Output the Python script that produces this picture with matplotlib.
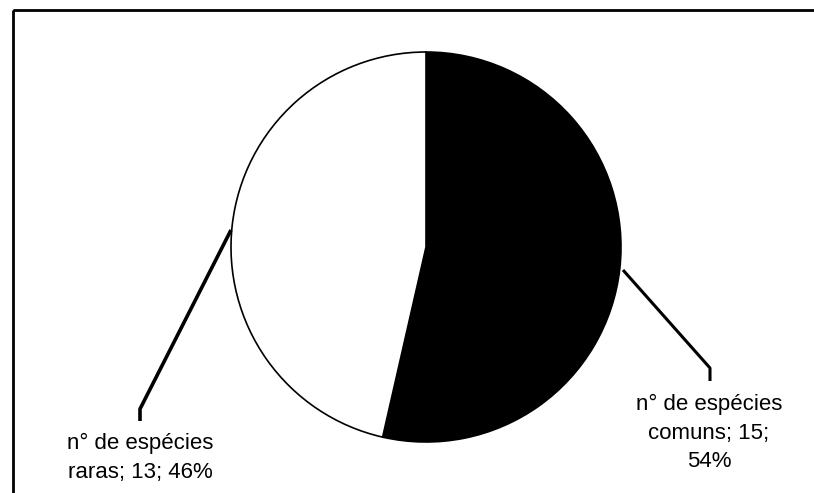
import matplotlib.pyplot as plt
from matplotlib.patches import Rectangle

plt.rcParams['font.family'] = ['Liberation Sans', 'DejaVu Sans']

labels = ["n° de espécies\ncomuns; 15;\n54%", "n° de espécies\nraras; 13; 46%"]
values = [15, 13]
colors = ["black", "white"]

fig = plt.figure(figsize=(8.14, 4.93), dpi=100)
ax = fig.add_axes([0, 0, 1, 1])

# y axis is flipped below, so start at -90 and go "counterclock" = clockwise on screen
ax.pie(values, colors=colors, startangle=-90, counterclock=True,
       center=(426, 247), radius=195,
       wedgeprops=dict(edgecolor="black", linewidth=1.2))

# leader lines + labels
ax.plot([623, 710, 710], [270, 368, 381], color="black", lw=2.2, solid_capstyle="butt")
ax.plot([231, 140, 140], [230, 409, 421], color="black", lw=2.6, solid_capstyle="butt")
ax.text(709, 433, labels[0], ha="center", va="center", fontsize=16, linespacing=1.45)
ax.text(140, 458, labels[1], ha="center", va="center", fontsize=16, linespacing=1.45)

# chart frame
ax.add_patch(Rectangle((13, 10), 900, 600, fill=False, edgecolor="black", lw=2))

ax.set_xlim(0, 814)
ax.set_ylim(493, 0)
ax.set_aspect("auto")
ax.axis("off")

fig.savefig("out.png", dpi=100)
